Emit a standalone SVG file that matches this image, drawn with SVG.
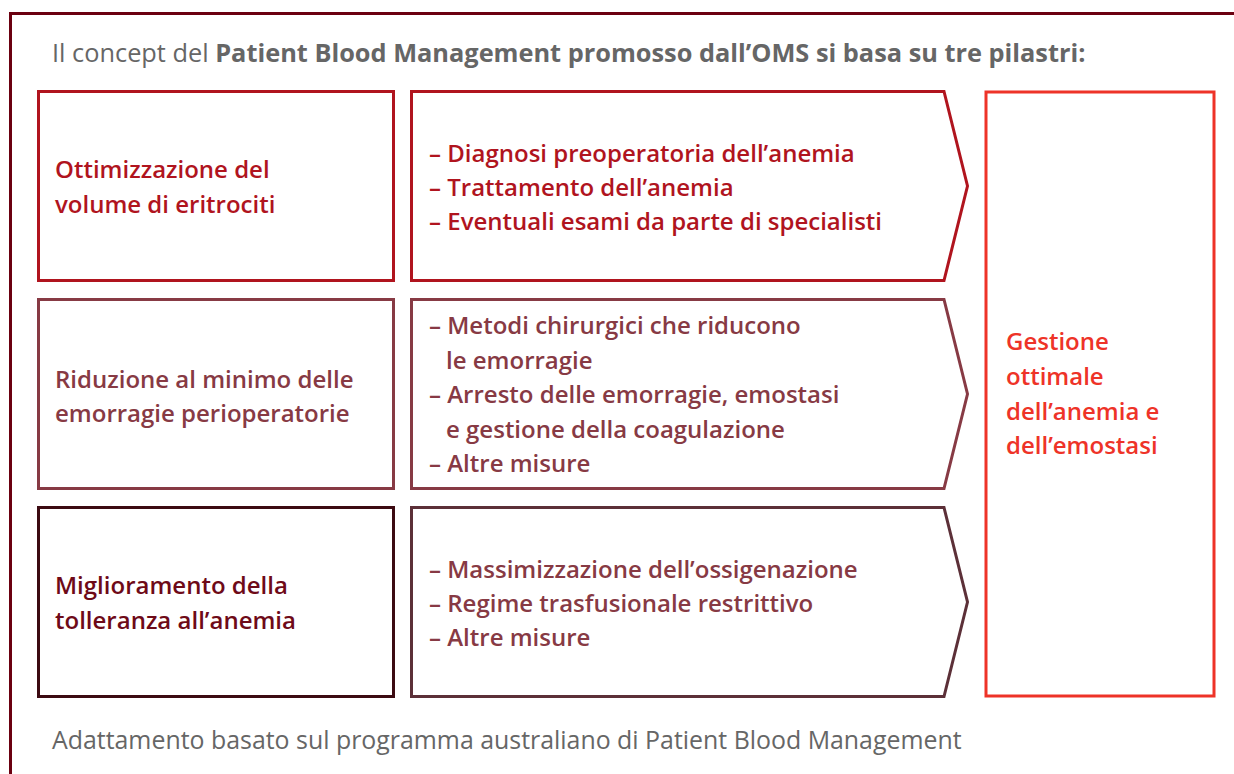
<svg xmlns="http://www.w3.org/2000/svg" width="1234" height="774" viewBox="0 0 1234 774">
<style>
text{font-family:"Open Sans","Noto Sans","Liberation Sans",sans-serif;}
.t{font-size:24.9px;fill:#666;}
.tt{font-size:25.35px;}
.b{font-weight:700;}
.n{font-size:24px;font-weight:600;}
.box{fill:#fff;stroke-width:3;}
.r1{stroke:#b0141e;} .c1{fill:#b0141e;}
.r2{stroke:#873a44;} .c2{fill:#873a44;}
.r3{stroke:#3c0a12;} .c3{fill:#6e0a18;}
.a3{stroke:#5c3038;}
.fin{stroke:#ee3328;} .cf{fill:#ee3328;}
</style>
<rect width="1234" height="774" fill="#fff"/>
<path d="M10.5,780 V13.5 H1240" fill="none" stroke="#6b0010" stroke-width="3"/>
<text class="t tt" x="52" y="62">Il concept del <tspan class="b">Patient Blood Management promosso dall’OMS si basa su tre pilastri:</tspan></text>

<g id="pillar1">
<rect class="box r1" x="38.5" y="91.5" width="355" height="189"/>
<text class="n c1" x="55" y="178">Ottimizzazione del</text>
<text class="n c1" x="55" y="213">volume di eritrociti</text>
</g>
<g id="measures1">
<path class="box r1" d="M411.5,91.5 H944 L967.5,186 L944,280.5 H411.5 Z"/>
<text class="n c1" x="429" y="162">– Diagnosi preoperatoria dell’anemia</text>
<text class="n c1" x="429" y="196">– Trattamento dell’anemia</text>
<text class="n c1" x="429" y="230">– Eventuali esami da parte di specialisti</text>
</g>

<g id="pillar2">
<rect class="box r2" x="38.5" y="299.5" width="355" height="189"/>
<text class="n c2" x="55" y="388">Riduzione al minimo delle</text>
<text class="n c2" x="55" y="422">emorragie perioperatorie</text>
</g>
<g id="measures2">
<path class="box r2" d="M411.5,299.5 H944 L967.5,394 L944,488.5 H411.5 Z"/>
<text class="n c2" x="429" y="334">– Metodi chirurgici che riducono</text>
<text class="n c2" x="446" y="369">le emorragie</text>
<text class="n c2" x="429" y="403">– Arresto delle emorragie, emostasi</text>
<text class="n c2" x="446" y="438">e gestione della coagulazione</text>
<text class="n c2" x="429" y="472">– Altre misure</text>
</g>

<g id="pillar3">
<rect class="box r3" x="38.5" y="507.5" width="355" height="189"/>
<text class="n c3" x="55" y="594">Miglioramento della</text>
<text class="n c3" x="55" y="629">tolleranza all’anemia</text>
</g>
<g id="measures3">
<path class="box a3" d="M411.5,507.5 H944 L967.5,602 L944,696.5 H411.5 Z"/>
<text class="n c2" x="429" y="578">– Massimizzazione dell’ossigenazione</text>
<text class="n c2" x="429" y="612">– Regime trasfusionale restrittivo</text>
<text class="n c2" x="429" y="646">– Altre misure</text>
</g>

<g id="outcome">
<rect class="box fin" x="986" y="92" width="228" height="604"/>
<text class="n cf" x="1006" y="350">Gestione</text>
<text class="n cf" x="1006" y="385">ottimale</text>
<text class="n cf" x="1006" y="420">dell’anemia e</text>
<text class="n cf" x="1006" y="454">dell’emostasi</text>
</g>

<g id="connectors"></g>

<text class="t" x="52" y="749">Adattamento basato sul programma australiano di Patient Blood Management</text>
</svg>
